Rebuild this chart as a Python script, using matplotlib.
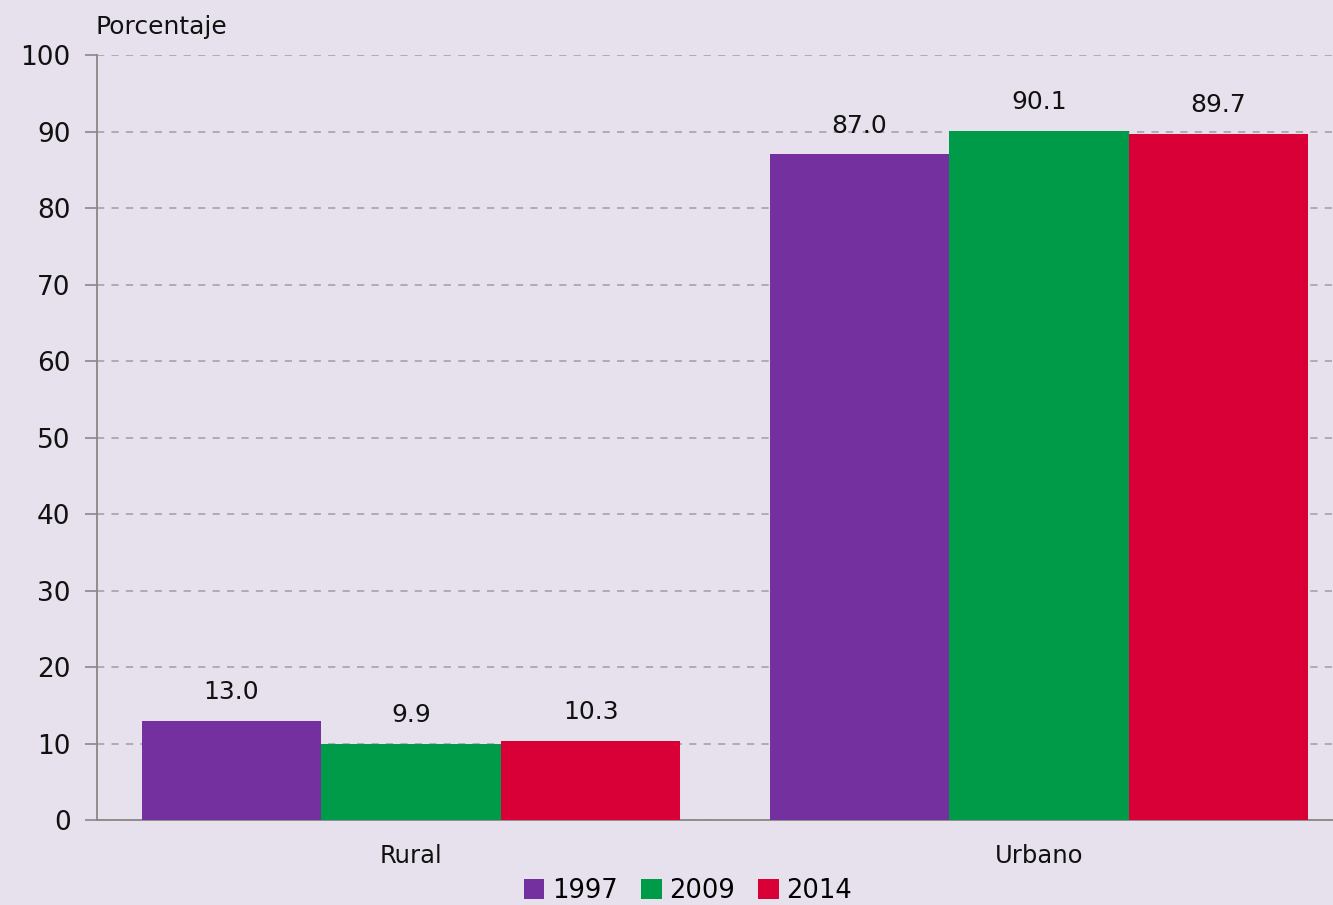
import matplotlib
matplotlib.use("Agg")
import matplotlib.pyplot as plt
import numpy as np
from matplotlib.patches import Patch

categories = ["Rural", "Urbano"]
years = ["1997", "2009", "2014"]
v1997 = [13.0, 87.0]
v2009 = [9.9, 90.1]
v2014 = [10.3, 89.7]
yticks = [0, 10, 20, 30, 40, 50, 60, 70, 80, 90, 100]

colors = ["#7530A0", "#009B48", "#D80036"]
bg = "#E6E1EC"

plt.rcParams['font.family'] = ['DejaVu Sans']
fig = plt.figure(figsize=(13.33, 9.05), dpi=100, facecolor=bg)
W, H = 1333, 905
ax = fig.add_axes([97 / W, 85 / H, (1353 - 97) / W, 765 / H], facecolor=bg)

x = np.arange(len(categories))
bw = 0.286
series = [v1997, v2009, v2014]
for i, (vals, c) in enumerate(zip(series, colors)):
    pos = x + (i - 1) * bw
    ax.bar(pos, vals, width=bw, color=c, zorder=3)
    for p, v in zip(pos, vals):
        ax.text(p, v + 2.2, f"{v:.1f}", ha="center", va="bottom", fontsize=18, color="#111111", zorder=4)

ax.set_xlim(-0.5, 1.5)
ax.set_ylim(0, 100)
ax.set_yticks(yticks)
ax.set_yticklabels([str(t) for t in yticks], fontsize=19, color="#111111")
ax.set_xticks(x)
ax.set_xticklabels(categories, fontsize=17.5, color="#111111")
ax.tick_params(axis="x", length=0, pad=17)
ax.tick_params(axis="y", length=9, width=1.2, color="#888888", pad=10)
ax.yaxis.grid(True, linestyle=(0, (4, 4)), color="#ABA7B0", linewidth=1.3, zorder=0)
ax.set_axisbelow(True)
for s in ["top", "right"]:
    ax.spines[s].set_visible(False)
for s in ["left", "bottom"]:
    ax.spines[s].set_color("#888888")
    ax.spines[s].set_linewidth(1.3)

fig.text(95 / W, 1 - 27 / H, "Porcentaje", ha="left", va="center", fontsize=18, color="#111111")

handles = [Patch(facecolor=c, label=y) for c, y in zip(colors, years)]
fig.legend(handles=handles, loc="center", bbox_to_anchor=(688 / W, 1 - 891 / H), ncol=3,
           frameon=False, fontsize=18.5, handlelength=0.8, handleheight=0.8,
           handletextpad=0.3, columnspacing=0.9)

fig.savefig("out.png", dpi=100, facecolor=bg)
